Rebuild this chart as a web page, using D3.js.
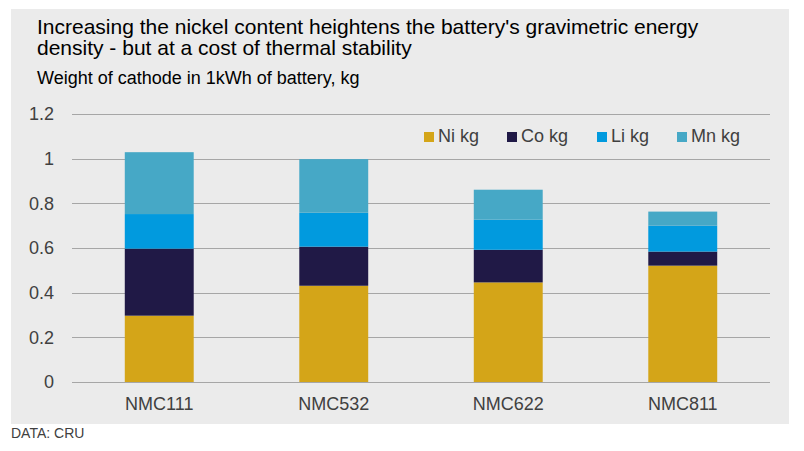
<!DOCTYPE html>
<html>
<head>
<script src="https://d3js.org/d3.v7.min.js"></script>
<style>
  body { margin: 0; background: #fff; }
  text { font-family: "Liberation Sans", Arial, sans-serif; }
</style>
</head>
<body>
<svg width="804" height="451"></svg>
<script>
// chart data
const categories = ['NMC111', 'NMC532', 'NMC622', 'NMC811'];
const seriesNames = ['Ni kg', 'Co kg', 'Li kg', 'Mn kg'];
const ni = [0.297, 0.431, 0.446, 0.521];
const co = [0.300, 0.175, 0.146, 0.063];
const li = [0.155, 0.152, 0.135, 0.116];
const mn = [0.277, 0.240, 0.134, 0.063];
const yTicks = [0, 0.2, 0.4, 0.6, 0.8, 1, 1.2];
const colors = ['#d4a518', '#201946', '#019ade', '#46a8c6'];

const svg = d3.select('svg');

// grey panel
svg.append('rect')
  .attr('x', 11).attr('y', 9)
  .attr('width', 778).attr('height', 415)
  .attr('fill', '#ebebeb');

// titles
svg.append('text')
  .attr('x', 37).attr('y', 34)
  .style('font-size', '21px').style('fill', '#000')
  .text("Increasing the nickel content heightens the battery's gravimetric energy");
svg.append('text')
  .attr('x', 37).attr('y', 55)
  .style('font-size', '21px').style('fill', '#000')
  .text('density - but at a cost of thermal stability');
svg.append('text')
  .attr('x', 37).attr('y', 84)
  .style('font-size', '18px').style('fill', '#000')
  .text('Weight of cathode in 1kWh of battery, kg');

// scales
const x = d3.scaleBand().domain(categories).range([72, 770])
  .paddingInner(0.605).paddingOuter(0.3025);
const y = d3.scaleLinear().domain([0, 1.2]).range([382, 114]);

// gridlines
svg.append('g')
  .selectAll('line')
  .data(yTicks)
  .enter()
  .append('line')
    .attr('x1', 72).attr('x2', 770)
    .attr('y1', d => Math.round(y(d)) + 0.5)
    .attr('y2', d => Math.round(y(d)) + 0.5)
    .attr('stroke', '#a6a6a6').attr('stroke-width', 1);

// y axis labels
const yAxis = svg.append('g')
  .attr('transform', 'translate(72,0)')
  .call(d3.axisLeft(y).tickValues(yTicks).tickSize(0).tickPadding(18)
    .tickFormat(d => d3.format('~g')(d)));
yAxis.select('.domain').remove();
yAxis.selectAll('text')
  .style('font-family', '"Liberation Sans", Arial, sans-serif')
  .style('font-size', '18px').style('fill', '#404040');

// stacked bars
const table = categories.map((c, i) => ({
  cat: c, 'Ni kg': ni[i], 'Co kg': co[i], 'Li kg': li[i], 'Mn kg': mn[i]
}));
const stack = d3.stack().keys(seriesNames)(table);

svg.append('g')
  .selectAll('g')
  .data(stack)
  .enter()
  .append('g')
    .attr('fill', (d, i) => colors[i])
  .selectAll('rect')
  .data(d => d)
  .enter()
  .append('rect')
    .attr('x', d => x(d.data.cat))
    .attr('y', d => y(d[1]))
    .attr('width', x.bandwidth())
    .attr('height', d => y(d[0]) - y(d[1]));

// x axis labels
const xAxis = svg.append('g')
  .attr('transform', 'translate(0,382)')
  .call(d3.axisBottom(x).tickSize(0).tickPadding(15));
xAxis.select('.domain').remove();
xAxis.selectAll('text')
  .style('font-family', '"Liberation Sans", Arial, sans-serif')
  .style('font-size', '18px').style('fill', '#404040');

// legend
const legendX = [424, 507, 597, 677];
const legend = svg.append('g')
  .selectAll('g')
  .data(seriesNames)
  .enter()
  .append('g')
    .attr('transform', (d, i) => 'translate(' + legendX[i] + ',142)');
legend.append('rect')
  .attr('x', 0).attr('y', -10)
  .attr('width', 10).attr('height', 10)
  .attr('fill', (d, i) => colors[i]);
legend.append('text')
  .attr('x', 14).attr('y', 0)
  .style('font-size', '18px').style('fill', '#404040')
  .text(d => d);

// source
svg.append('text')
  .attr('x', 11).attr('y', 438)
  .style('font-size', '14px').style('fill', '#404040')
  .text('DATA: CRU');
</script>
</body>
</html>
